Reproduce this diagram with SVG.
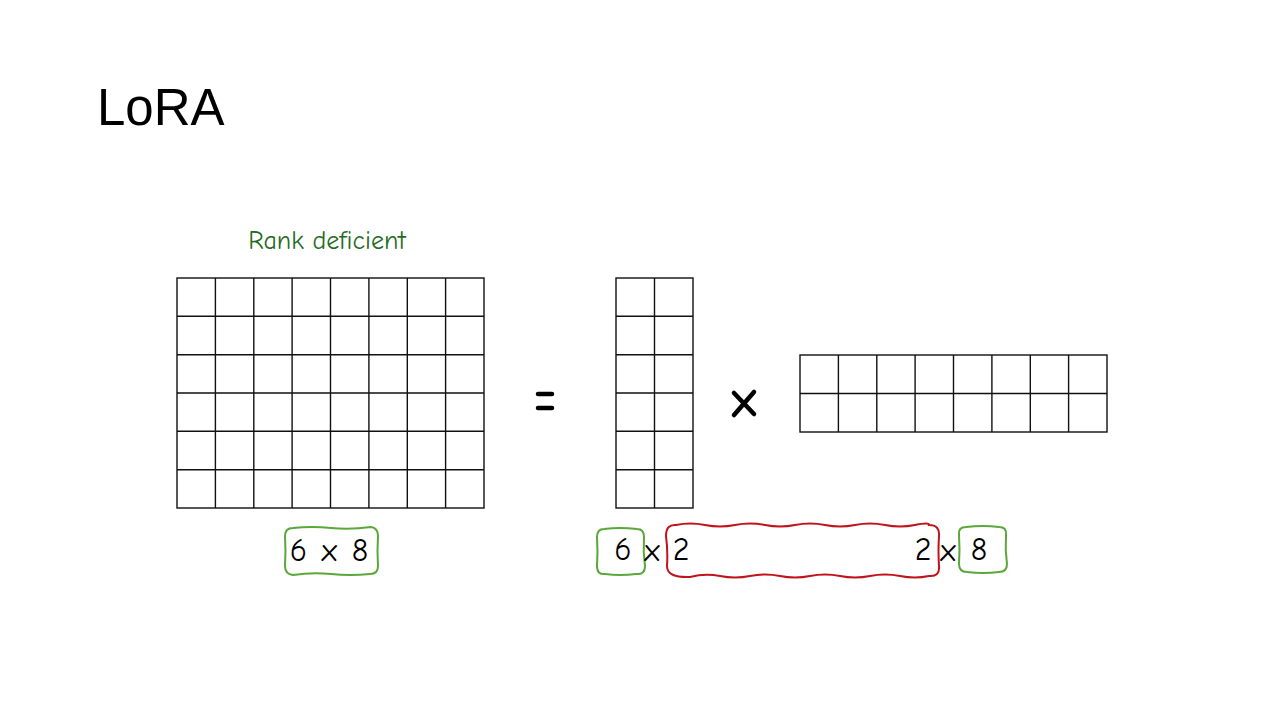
<svg xmlns="http://www.w3.org/2000/svg" width="1280" height="720" viewBox="0 0 1280 720">
<style>
.grid{fill:none;stroke:#111;stroke-width:1.4}
.sym{fill:none;stroke:#000;stroke-width:4.5;stroke-linecap:round}
.gbox{fill:none;stroke:#5aa83a;stroke-width:2}
.rbox{fill:none;stroke:#c0141c;stroke-width:2}
.lbl{font-family:"Comic Neue","Open Sans","DejaVu Sans",sans-serif;font-size:32px;fill:#000}
</style>
<rect width="1280" height="720" fill="#fff"/>
<g id="title"><text x="97" y="125" font-family="Liberation Sans, Arial, sans-serif" font-size="51" fill="#000">LoRA</text></g>
<g id="rank-label"><text x="327" y="249" text-anchor="middle" font-family="Comic Neue, DejaVu Sans, sans-serif" font-size="26" fill="#1f6b22">Rank deficient</text></g>
<g id="matrix-W">
<rect class="grid" x="177" y="278" width="307" height="230"/>
<path class="grid" d="M215.4 278V508M253.8 278V508M292.1 278V508M330.5 278V508M368.9 278V508M407.3 278V508M445.6 278V508M177 316.3H484M177 354.7H484M177 393H484M177 431.3H484M177 469.7H484"/>
</g>
<g id="matrix-A">
<rect class="grid" x="616" y="278" width="77" height="230"/>
<path class="grid" d="M654.5 278V508M616 316.3H693M616 354.7H693M616 393H693M616 431.3H693M616 469.7H693"/>
</g>
<g id="matrix-B">
<rect class="grid" x="800" y="355" width="307" height="77"/>
<path class="grid" d="M838.4 355V432M876.8 355V432M915.1 355V432M953.5 355V432M991.9 355V432M1030.3 355V432M1068.6 355V432M800 393.5H1107"/>
</g>
<g id="equals"><path class="sym" d="M538 394H552M538 408H552"/></g>
<g id="times"><path class="sym" d="M734 393L754 414M754 392L734 415"/></g>
<g id="dim-W">
<path class="gbox" d="M293 528Q312 526 331 528T371 527Q378 528 378 536Q377 551 378 566Q378 574 370 574Q350 576 331 574T293 575Q285 574 285 566Q286 551 285 536Q285 528 293 528Z"/>
<text class="lbl" x="329" y="561" text-anchor="middle" word-spacing="4">6 x 8</text>
</g>
<g id="dim-A-rows">
<path class="gbox" d="M604 529Q620 527 637 529Q644 529 644 537Q643 552 645 566Q645 575 636 574Q620 576 605 574Q597 575 597 566Q598 552 597 537Q597 529 604 529Z"/>
<text class="lbl" x="623" y="560" text-anchor="middle">6</text>
</g>
<text class="lbl" x="652" y="561" text-anchor="middle">x</text>
<g id="rank-r">
<path class="rbox" d="M676 525Q690 522 705 525T735 525T765 525T795 525T825 525T855 525T885 525T915 525T929 525Q940 525 939 536Q938 551 939 566Q940 577 929 576Q915 579 900 576T870 576T840 576T810 576T780 576T750 576T720 576T690 577Q667 578 667 566Q668 551 666 536Q666 524 676 525Z"/>
<text class="lbl" x="681" y="560" text-anchor="middle">2</text>
<text class="lbl" x="923" y="560" text-anchor="middle">2</text>
</g>
<text class="lbl" x="948" y="561" text-anchor="middle">x</text>
<g id="dim-B-cols">
<path class="gbox" d="M966 527Q983 525 999 527Q1007 527 1006 535Q1005 550 1007 564Q1007 572 999 572Q983 574 967 572Q959 572 959 564Q960 550 959 535Q958 527 966 527Z"/>
<text class="lbl" x="979" y="560" text-anchor="middle">8</text>
</g>
</svg>
